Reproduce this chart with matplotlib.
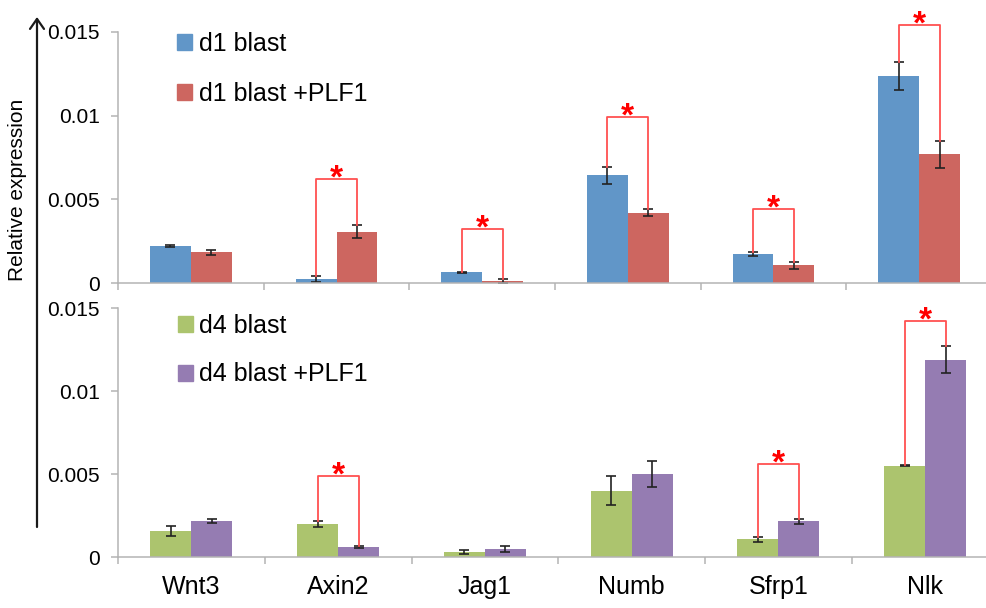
import matplotlib
matplotlib.use('Agg')
import matplotlib.pyplot as plt
from matplotlib.patches import Patch, FancyArrowPatch
import numpy as np

plt.rcParams['font.family'] = ['Liberation Sans', 'DejaVu Sans']

genes = ['Wnt3', 'Axin2', 'Jag1', 'Numb', 'Sfrp1', 'Nlk']

# day 1 blastema
d1 = [0.00223, 0.00024, 0.00064, 0.00644, 0.00171, 0.01239]
d1_err = [0.00005, 0.00015, 0.00003, 0.00052, 0.00012, 0.00084]
d1_plf = [0.00183, 0.00307, 0.00012, 0.0042, 0.00106, 0.00769]
d1_plf_err = [0.00016, 0.00037, 0.0001, 0.00022, 0.0002, 0.0008]
d1_sig = [None, 0.0062, 0.0032, 0.0099, 0.0044, 0.0154]

# day 4 blastema
d4 = [0.0016, 0.002, 0.00032, 0.004, 0.00108, 0.00552]
d4_err = [0.0003, 0.0002, 0.0001, 0.00088, 0.00014, 0.00003]
d4_plf = [0.00219, 0.0006, 0.0005, 0.005, 0.00217, 0.0119]
d4_plf_err = [0.00014, 0.00005, 0.0002, 0.0008, 0.00015, 0.0008]
d4_sig = [None, 0.0049, None, None, 0.0056, 0.0142]

yticks = [0, 0.005, 0.01, 0.015]
ytick_labels = ['0', '0.005', '0.01', '0.015']

axis_grey = '#b4b4b4'


def draw_panel(ax, a, a_err, b, b_err, sig, labels, colors, show_names,
               legend_y, legend_gap):
    x = np.arange(len(genes))
    w = 0.28
    ax.bar(x - w / 2, a, w, color=colors[0])
    ax.bar(x + w / 2, b, w, color=colors[1])
    ax.errorbar(x - w / 2, a, yerr=a_err, fmt='none', ecolor='#222222',
                elinewidth=1.2, capsize=3.5, capthick=1.2)
    ax.errorbar(x + w / 2, b, yerr=b_err, fmt='none', ecolor='#222222',
                elinewidth=1.2, capsize=3.5, capthick=1.2)

    # significance brackets
    for i, top in enumerate(sig):
        if top is None:
            continue
        left = a[i] + a_err[i]
        right = b[i] + b_err[i]
        ax.plot([x[i] - w / 2, x[i] - w / 2, x[i] + w / 2, x[i] + w / 2],
                [left, top, top, right], color='#ff5050', lw=1.3, clip_on=False)
        ax.annotate('*', (x[i], top), xytext=(0, -6), textcoords='offset points',
                    ha='center', va='baseline', color='red', fontsize=24,
                    fontweight='bold', annotation_clip=False)

    ax.set_xlim(-0.5, 5.5)
    ax.set_ylim(0, 0.015)
    ax.set_yticks(yticks)
    ax.set_yticklabels(ytick_labels, fontsize=15)
    ax.set_xticks(np.arange(-0.5, 6, 1))
    ax.set_xticklabels([])
    ax.set_xticks(x, minor=True)
    if show_names:
        ax.set_xticklabels(genes, minor=True, fontsize=18)
    ax.tick_params(axis='x', which='major', length=5, color=axis_grey, width=1.1)
    ax.tick_params(axis='x', which='minor', length=0, pad=13)
    ax.tick_params(axis='y', length=5, color=axis_grey, width=1.1, pad=8)
    for s in ['top', 'right']:
        ax.spines[s].set_visible(False)
    for s in ['left', 'bottom']:
        ax.spines[s].set_color(axis_grey)
        ax.spines[s].set_linewidth(1.1)

    handles = [Patch(color=colors[0], label=labels[0]),
               Patch(color=colors[1], label=labels[1])]
    ax.legend(handles=handles, loc='upper left', bbox_to_anchor=(0.068, legend_y),
              frameon=False, fontsize=18, handlelength=0.6, handleheight=0.6,
              handletextpad=0.25, labelspacing=legend_gap, borderpad=0,
              borderaxespad=0)


fig = plt.figure(figsize=(9.87, 6.08), dpi=100)
ax1 = fig.add_axes([0.1196, 0.5345, 0.8854, 0.4129])
ax2 = fig.add_axes([0.1196, 0.0834, 0.892, 0.41])

draw_panel(ax1, d1, d1_err, d1_plf, d1_plf_err, d1_sig,
           ['d1 blast', 'd1 blast +PLF1'], ['#6196c8', '#cd6660'], False,
           1.0, 1.05)
draw_panel(ax2, d4, d4_err, d4_plf, d4_plf_err, d4_sig,
           ['d4 blast', 'd4 blast +PLF1'], ['#acc46e', '#957cb2'], True,
           0.975, 0.97)

# shared y label with arrow
fig.text(18 / 987, 1 - 190 / 608, 'Relative expression', rotation=90,
         ha='center', va='center', fontsize=15)
arrow = FancyArrowPatch((37 / 987, 1 - 527 / 608), (37 / 987, 1 - 17 / 608),
                        transform=fig.transFigure,
                        arrowstyle='->,head_length=0.4,head_width=0.28',
                        mutation_scale=18, lw=1.6, color='#1a1a1a',
                        shrinkA=0, shrinkB=0)
fig.add_artist(arrow)

fig.savefig('out.png', dpi=100)
